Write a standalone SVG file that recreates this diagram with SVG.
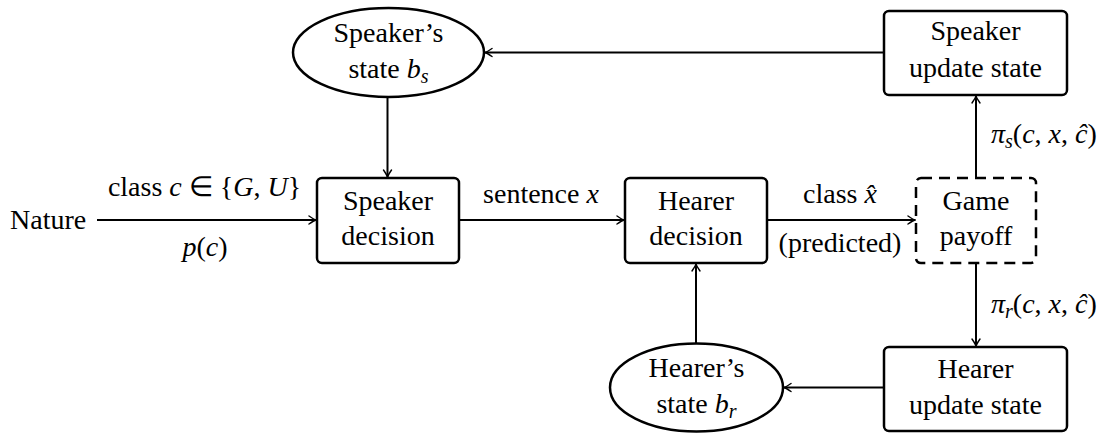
<svg xmlns="http://www.w3.org/2000/svg" width="1114" height="433" viewBox="0 0 1114 433">
<defs>
<style>
text{font-family:"Liberation Serif","Times New Roman",serif;font-size:28px;fill:#000}
.c{text-anchor:middle}
.m{font-style:italic}
.box{fill:#fff;stroke:#000;stroke-width:2.5}
.dash{fill:#fff;stroke:#000;stroke-width:2.5;stroke-dasharray:11 7}
.ell{fill:#fff;stroke:#000;stroke-width:2.5}
.ln{fill:none;stroke:#000;stroke-width:2;marker-end:url(#ah)}
</style>
<marker id="ah" viewBox="-10 -6 12 12" refX="0" refY="0" markerWidth="12" markerHeight="12" markerUnits="userSpaceOnUse" orient="auto">
<path d="M -7 -4 Q -2 -0.6 0 0 Q -2 0.6 -7 4" fill="none" stroke="#000" stroke-width="1.4" stroke-linecap="round"/>
</marker>
</defs>
<rect width="1114" height="433" fill="#fff"/>
<g id="connectors">
<line class="ln" x1="97" y1="220" x2="316" y2="220"/>
<line class="ln" x1="459" y1="220" x2="624" y2="220"/>
<line class="ln" x1="767" y1="220" x2="915" y2="220"/>
<line class="ln" x1="884" y1="52.5" x2="485" y2="52.5"/>
<line class="ln" x1="387.5" y1="97" x2="387.5" y2="177"/>
<line class="ln" x1="976" y1="178" x2="976" y2="96"/>
<line class="ln" x1="976" y1="263" x2="976" y2="346"/>
<line class="ln" x1="884" y1="387.5" x2="784" y2="387.5"/>
<line class="ln" x1="696" y1="343" x2="696" y2="264"/>
<text class="c" x="204.5" y="196">class <tspan class="m">c</tspan> ∈ {<tspan class="m">G</tspan>, <tspan class="m">U</tspan>}</text>
<text class="c" x="205" y="256"><tspan class="m">p</tspan>(<tspan class="m">c</tspan>)</text>
<text class="c" x="541" y="203">sentence <tspan class="m">x</tspan></text>
<text class="c" x="840" y="203">class <tspan class="m">x̂</tspan></text>
<text class="c" x="840" y="252">(predicted)</text>
<text x="991" y="143"><tspan class="m">π</tspan><tspan class="m" font-size="20" dy="5">s</tspan><tspan dy="-5">(</tspan><tspan class="m">c</tspan>, <tspan class="m">x</tspan>, <tspan class="m">ĉ</tspan>)</text>
<text x="991" y="313"><tspan class="m">π</tspan><tspan class="m" font-size="20" dy="5">r</tspan><tspan dy="-5">(</tspan><tspan class="m">c</tspan>, <tspan class="m">x</tspan>, <tspan class="m">ĉ</tspan>)</text>
</g>
<g id="nature">
<text x="10" y="229">Nature</text>
</g>
<g id="speaker-decision">
<rect class="box" x="317" y="178" width="142" height="85" rx="5"/>
<text class="c" x="388" y="210">Speaker</text>
<text class="c" x="388" y="245">decision</text>
</g>
<g id="hearer-decision">
<rect class="box" x="625" y="178" width="142" height="85" rx="5"/>
<text class="c" x="696" y="210">Hearer</text>
<text class="c" x="696" y="245">decision</text>
</g>
<g id="game-payoff">
<rect class="dash" x="916" y="178" width="120" height="85" rx="5"/>
<text class="c" x="976" y="210">Game</text>
<text class="c" x="976" y="245">payoff</text>
</g>
<g id="speaker-state">
<ellipse class="ell" cx="388.5" cy="52.5" rx="95.5" ry="44.5"/>
<text class="c" x="388.5" y="42">Speaker’s</text>
<text class="c" x="388.5" y="78">state <tspan class="m">b</tspan><tspan class="m" font-size="20" dy="5">s</tspan></text>
</g>
<g id="speaker-update">
<rect class="box" x="884" y="11" width="183" height="84" rx="5"/>
<text class="c" x="975.5" y="40">Speaker</text>
<text class="c" x="975.5" y="77">update state</text>
</g>
<g id="hearer-update">
<rect class="box" x="884" y="347" width="183" height="84" rx="5"/>
<text class="c" x="975.5" y="378">Hearer</text>
<text class="c" x="975.5" y="414">update state</text>
</g>
<g id="hearer-state">
<ellipse class="ell" cx="696.5" cy="387.5" rx="86.5" ry="44"/>
<text class="c" x="696.5" y="377">Hearer’s</text>
<text class="c" x="696.5" y="413">state <tspan class="m">b</tspan><tspan class="m" font-size="20" dy="5">r</tspan></text>
</g>
</svg>
